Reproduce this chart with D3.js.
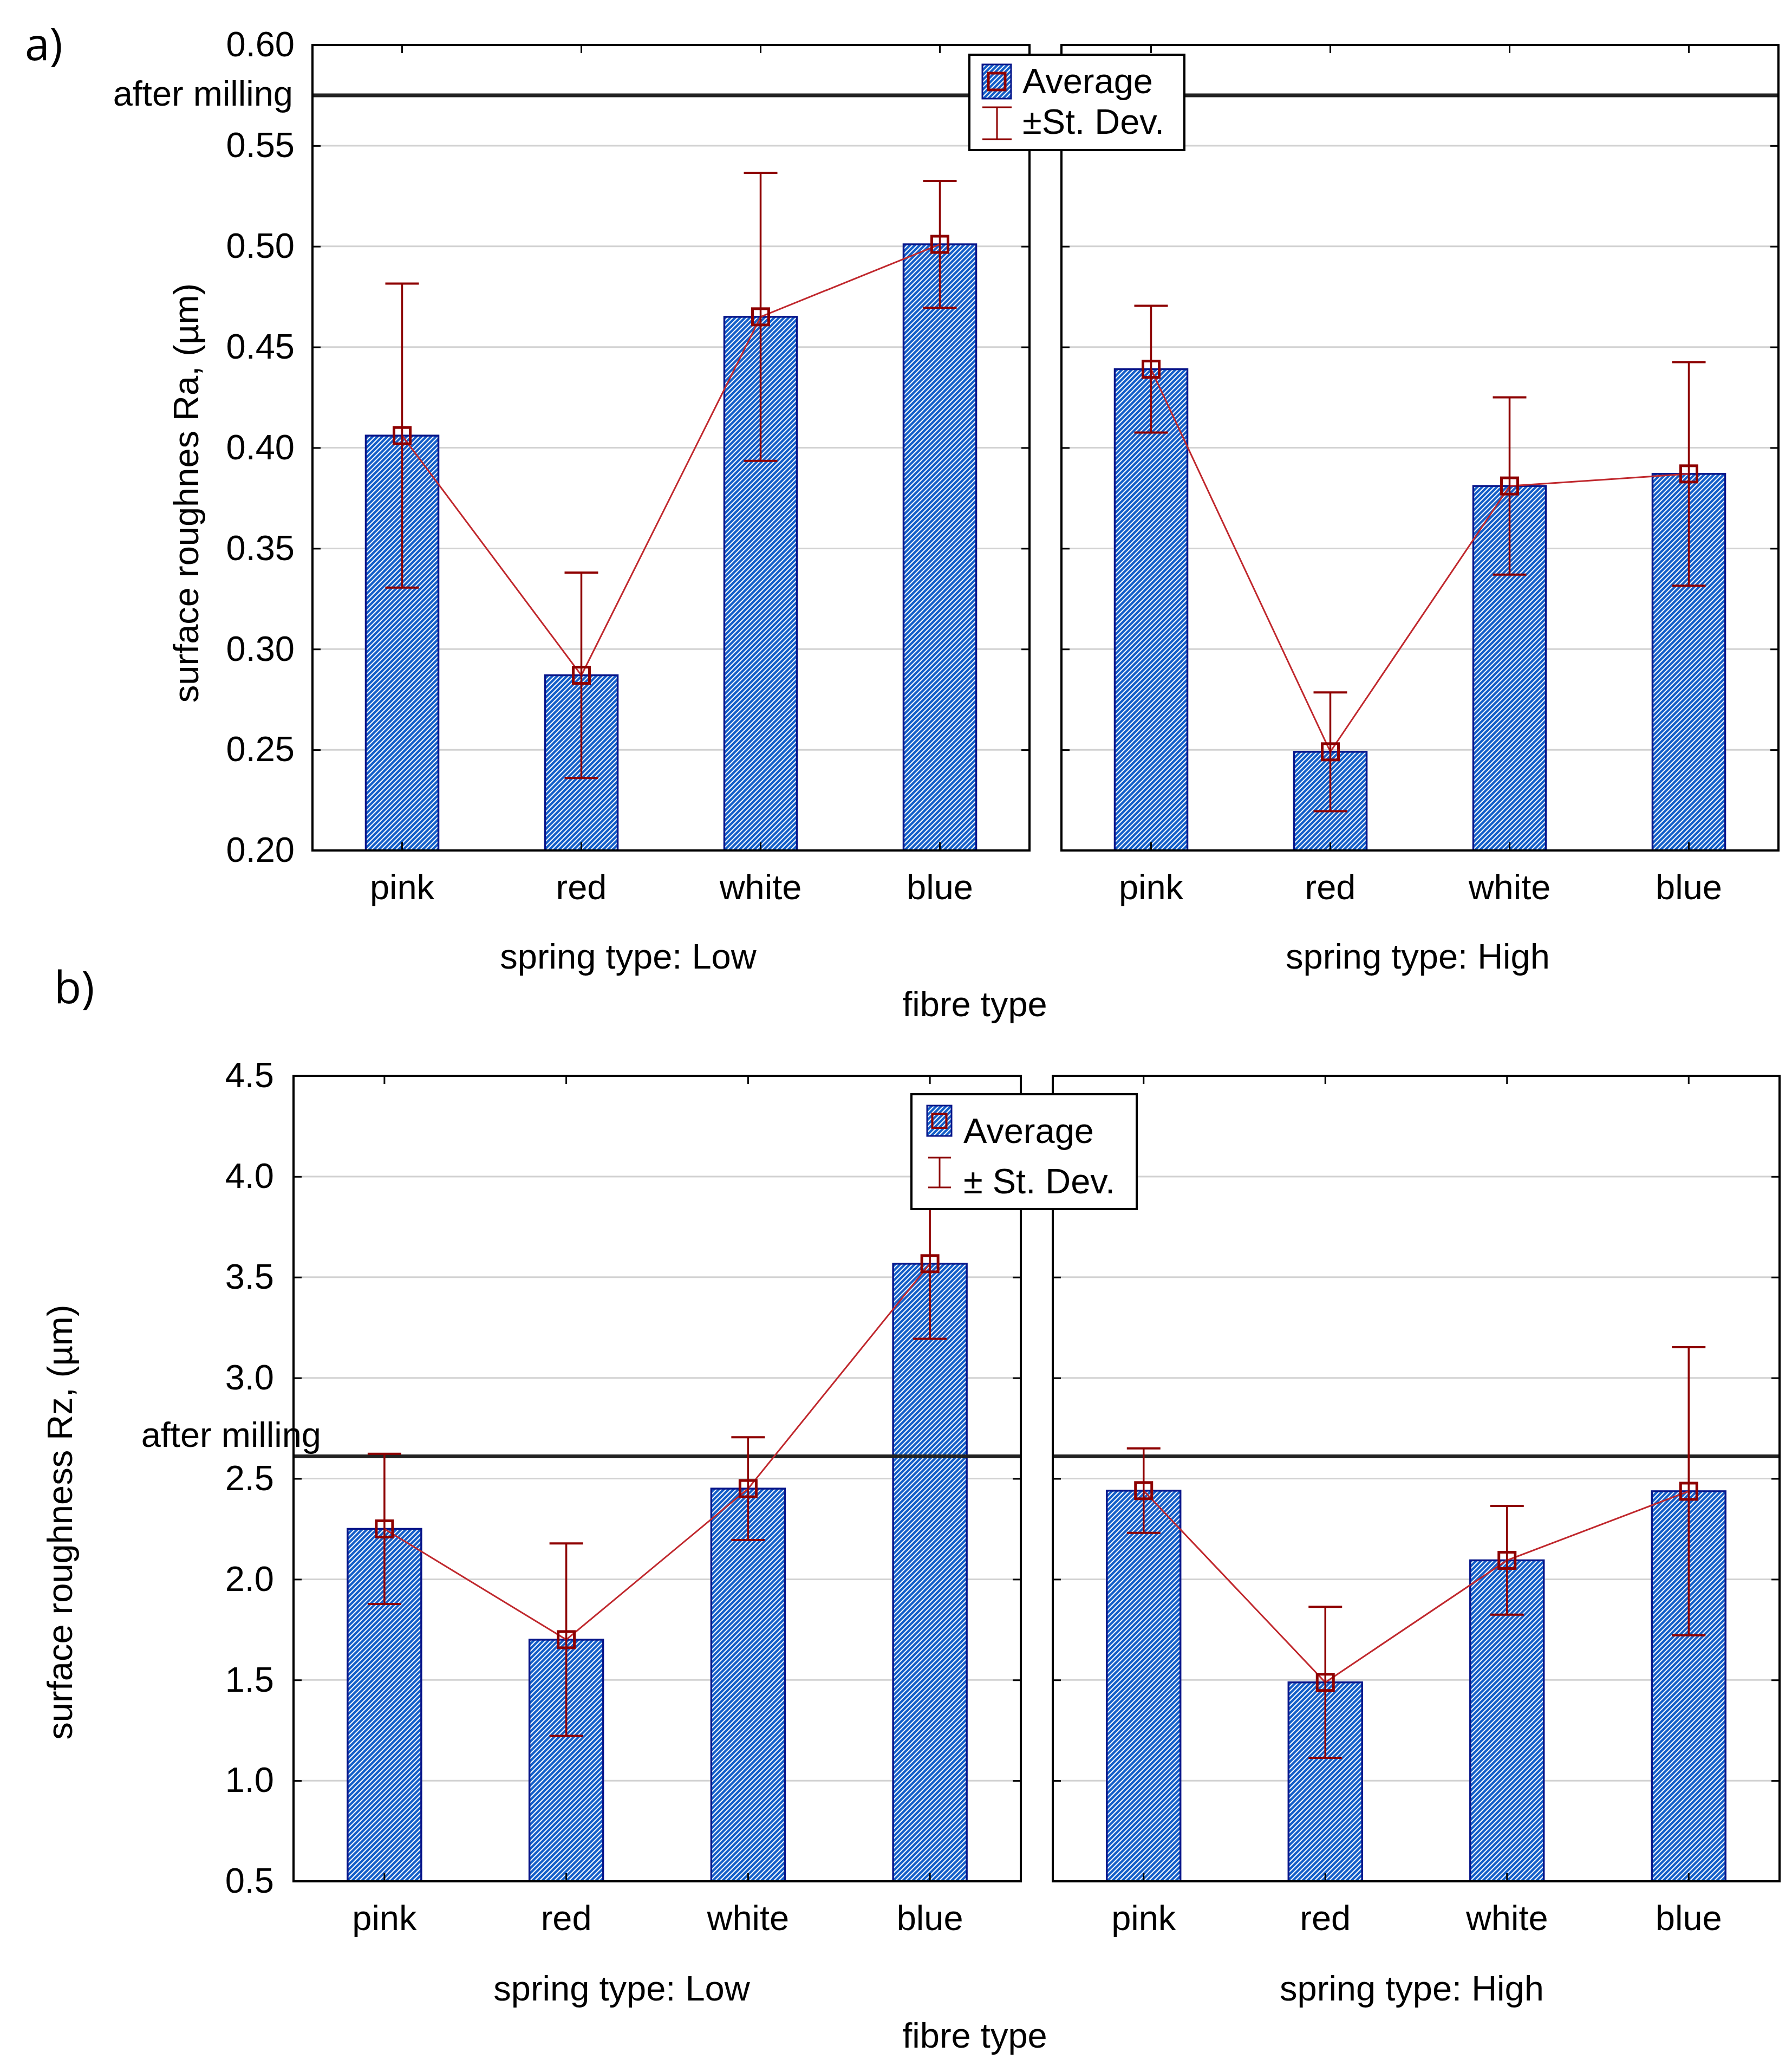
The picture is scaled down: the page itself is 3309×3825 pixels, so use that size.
<!DOCTYPE html>
<html>
<head>
<meta charset="utf-8">
<script src="https://cdn.jsdelivr.net/npm/d3@7"></script>
<style>
  html, body { margin: 0; padding: 0; background: #ffffff; }
  svg { display: block; }
</style>
</head>
<body>
<script>
// ---------------- DATA ----------------
const categories = ["pink", "red", "white", "blue"];
const springTypes = ["Low", "High"];

// a) surface roughness Ra (µm)
const raMeanLow  = [0.406, 0.287, 0.465, 0.501];
const raSdLow    = [0.0755, 0.051, 0.0715, 0.0315];
const raMeanHigh = [0.439, 0.249, 0.381, 0.387];
const raSdHigh   = [0.0315, 0.0295, 0.044, 0.0555];
const raAfterMilling = 0.575;
const raTicks = [0.20, 0.25, 0.30, 0.35, 0.40, 0.45, 0.50, 0.55, 0.60];

// b) surface roughness Rz (µm)
const rzMeanLow  = [2.25, 1.70, 2.45, 3.567];
const rzSdLow    = [0.373, 0.478, 0.255, 0.373];
const rzMeanHigh = [2.44, 1.488, 2.094, 2.437];
const rzSdHigh   = [0.21, 0.375, 0.27, 0.715];
const rzAfterMilling = 2.61;
const rzTicks = [0.5, 1.0, 1.5, 2.0, 2.5, 3.0, 3.5, 4.0, 4.5];

const legendLabelsA = ["Average", "\u00B1St. Dev."];
const legendLabelsB = ["Average", "\u00B1 St. Dev."];

// ---------------- STYLE ----------------
const W = 3309, H = 3825;
const FONT = "'Liberation Sans', Arial, Helvetica, sans-serif";
const FS = 65;
const BAR_BLUE = "#135ec8";
const BAR_EDGE = "#08168a";
const ERR_RED = "#8e0000";
const LINE_RED = "#c0282d";
const GRID = "#d2d2d2";

const svg = d3.select("body").append("svg")
  .attr("width", W).attr("height", H)
  .attr("viewBox", `0 0 ${W} ${H}`);
svg.append("rect").attr("width", W).attr("height", H).attr("fill", "#fff");

const defs = svg.append("defs");
const pat = defs.append("pattern").attr("id", "hatch")
  .attr("patternUnits", "userSpaceOnUse").attr("width", 9).attr("height", 9);
pat.append("rect").attr("width", 9).attr("height", 9).attr("fill", "#fff");
pat.append("path").attr("d", "M-2,2 L2,-2 M0,9 L9,0 M7,11 L11,7")
  .attr("stroke", BAR_BLUE).attr("stroke-width", 4.4);

function drawPanel(cfg) {
  const g = svg.append("g");
  const y = d3.scaleLinear().domain(cfg.domain).range([cfg.bottom, cfg.top]);
  const fmt = d3.format(cfg.fmt);

  cfg.groups.forEach((grp, gi) => {
    const [x0, x1] = cfg.xr[gi];
    const x = d3.scaleBand().domain(categories).range([x0, x1])
      .paddingInner(0.595).paddingOuter(0.2975);
    const cx = c => x(c) + x.bandwidth() / 2;
    const pg = g.append("g");

    // grid
    pg.selectAll("line.grid").data(cfg.ticks.slice(1, -1)).join("line")
      .attr("x1", x0).attr("x2", x1)
      .attr("y1", d => y(d)).attr("y2", d => y(d))
      .attr("stroke", GRID).attr("stroke-width", 3);

    const rows = categories.map((c, i) => ({ c, m: grp.mean[i], s: grp.sd[i] }));

    // bars
    pg.selectAll("rect.bar").data(rows).join("rect")
      .attr("x", d => x(d.c)).attr("width", x.bandwidth())
      .attr("y", d => y(d.m)).attr("height", d => y(cfg.domain[0]) - y(d.m))
      .attr("fill", "url(#hatch)").attr("stroke", BAR_EDGE).attr("stroke-width", 3.5);

    // after milling reference line
    pg.append("line")
      .attr("x1", x0).attr("x2", x1)
      .attr("y1", y(cfg.after)).attr("y2", y(cfg.after))
      .attr("stroke", "#222").attr("stroke-width", 7);

    // connecting line
    pg.append("path").datum(rows)
      .attr("d", d3.line().x(d => cx(d.c)).y(d => y(d.m)))
      .attr("fill", "none").attr("stroke", LINE_RED).attr("stroke-width", 3);

    // error bars
    const eb = pg.selectAll("g.eb").data(rows).join("g");
    eb.append("line").attr("x1", d => cx(d.c)).attr("x2", d => cx(d.c))
      .attr("y1", d => y(d.m - d.s)).attr("y2", d => y(d.m + d.s))
      .attr("stroke", ERR_RED).attr("stroke-width", 3.5);
    eb.append("line").attr("x1", d => cx(d.c) - 31).attr("x2", d => cx(d.c) + 31)
      .attr("y1", d => y(d.m + d.s)).attr("y2", d => y(d.m + d.s))
      .attr("stroke", ERR_RED).attr("stroke-width", 4);
    eb.append("line").attr("x1", d => cx(d.c) - 31).attr("x2", d => cx(d.c) + 31)
      .attr("y1", d => y(d.m - d.s)).attr("y2", d => y(d.m - d.s))
      .attr("stroke", ERR_RED).attr("stroke-width", 4);
    eb.append("rect").attr("x", d => cx(d.c) - 15).attr("y", d => y(d.m) - 15)
      .attr("width", 30).attr("height", 30)
      .attr("fill", "none").attr("stroke", ERR_RED).attr("stroke-width", 5);

    // axes (inward ticks)
    const yl = d3.axisLeft(y).tickValues(cfg.ticks).tickSize(-15).tickSizeOuter(0)
      .tickPadding(cfg.labelGap).tickFormat(gi === 0 ? fmt : () => "");
    const ylg = pg.append("g").attr("transform", `translate(${x0},0)`).call(yl);
    const yr = d3.axisRight(y).tickValues(cfg.ticks).tickSize(-15).tickSizeOuter(0).tickFormat(() => "");
    const yrg = pg.append("g").attr("transform", `translate(${x1},0)`).call(yr);
    const xb = d3.axisBottom(x).tickSize(-15).tickSizeOuter(0).tickPadding(44);
    const xbg = pg.append("g").attr("transform", `translate(0,${cfg.bottom})`).call(xb);
    const xt = d3.axisTop(x).tickSize(-15).tickSizeOuter(0).tickFormat(() => "");
    const xtg = pg.append("g").attr("transform", `translate(0,${cfg.top})`).call(xt);
    [ylg, yrg, xbg, xtg].forEach(a => {
      a.select(".domain").remove();
      a.selectAll(".tick line").attr("stroke", "#000").attr("stroke-width", 3);
      a.selectAll("text").attr("font-family", FONT).attr("font-size", FS).attr("fill", "#000");
    });

    // frame
    pg.append("rect").attr("x", x0).attr("y", cfg.top)
      .attr("width", x1 - x0).attr("height", cfg.bottom - cfg.top)
      .attr("fill", "none").attr("stroke", "#000").attr("stroke-width", 4);

    // group label
    g.append("text").attr("x", cfg.springX[gi]).attr("y", cfg.springY)
      .attr("text-anchor", "middle").attr("font-family", FONT).attr("font-size", FS)
      .text("spring type: " + springTypes[gi]);
  });

  // after milling label
  g.append("text").attr("x", cfg.afterLabel[0]).attr("y", cfg.afterLabel[1])
    .attr("text-anchor", "end").attr("font-family", FONT).attr("font-size", FS)
    .text("after milling");

  // y title
  g.append("text").attr("transform", `translate(${cfg.yTitle[0]},${cfg.yTitle[1]}) rotate(-90)`)
    .attr("text-anchor", "middle").attr("font-family", FONT).attr("font-size", FS)
    .text(cfg.yTitleText);

  // x title
  g.append("text").attr("x", cfg.xTitle[0]).attr("y", cfg.xTitle[1])
    .attr("text-anchor", "middle").attr("font-family", FONT).attr("font-size", FS)
    .text("fibre type");

  // panel tag
  g.append("text").attr("x", cfg.tag[0]).attr("y", cfg.tag[1])
    .attr("font-family", "'Open Sans', 'DejaVu Sans', sans-serif").attr("font-size", 82)
    .text(cfg.tagText);

  // legend
  const L = cfg.legend;
  const lg = g.append("g");
  lg.append("rect").attr("x", L.x).attr("y", L.y).attr("width", L.w).attr("height", L.h)
    .attr("fill", "#fff").attr("stroke", "#000").attr("stroke-width", 4);
  lg.append("rect").attr("x", L.icon.x).attr("y", L.icon.y).attr("width", L.icon.w).attr("height", L.icon.h)
    .attr("fill", "url(#hatch)").attr("stroke", BAR_EDGE).attr("stroke-width", 3);
  const mcx = L.icon.x + L.icon.w / 2, mcy = L.icon.y + L.icon.h / 2;
  lg.append("rect").attr("x", mcx - L.ms / 2).attr("y", mcy - L.ms / 2)
    .attr("width", L.ms).attr("height", L.ms)
    .attr("fill", "none").attr("stroke", ERR_RED).attr("stroke-width", L.msw);
  const ex = L.err.x, ehw = L.err.hw;
  lg.append("line").attr("x1", ex).attr("x2", ex).attr("y1", L.err.y0).attr("y2", L.err.y1)
    .attr("stroke", ERR_RED).attr("stroke-width", 3);
  [L.err.y0, L.err.y1].forEach(yy => lg.append("line")
    .attr("x1", ex - ehw).attr("x2", ex + ehw).attr("y1", yy).attr("y2", yy)
    .attr("stroke", ERR_RED).attr("stroke-width", 3));
  lg.selectAll("text.lt").data(cfg.legendLabels).join("text")
    .attr("x", L.tx).attr("y", (d, i) => L.ty[i])
    .attr("font-family", FONT).attr("font-size", FS).text(d => d);
}

drawPanel({
  domain: [0.20, 0.60], ticks: raTicks, fmt: ".2f",
  top: 83, bottom: 1570, xr: [[577, 1901], [1960, 3284]], labelGap: 33,
  groups: [{ mean: raMeanLow, sd: raSdLow }, { mean: raMeanHigh, sd: raSdHigh }],
  after: raAfterMilling, afterLabel: [541, 195],
  springX: [1160, 2618], springY: 1788,
  xTitle: [1800, 1876],
  yTitle: [366, 910], yTitleText: "surface roughnes Ra, (\u00B5m)",
  tag: [46, 111], tagText: "a)",
  legend: { x: 1790, y: 101, w: 397, h: 176,
    icon: { x: 1814, y: 119, w: 53, h: 63 }, ms: 31, msw: 5,
    err: { x: 1841, y0: 198, y1: 257, hw: 27 },
    tx: 1888, ty: [172, 247] },
  legendLabels: legendLabelsA
});

drawPanel({
  domain: [0.5, 4.5], ticks: rzTicks, fmt: ".1f",
  top: 1986, bottom: 3473, xr: [[542, 1885], [1944, 3286]], labelGap: 36,
  groups: [{ mean: rzMeanLow, sd: rzSdLow }, { mean: rzMeanHigh, sd: rzSdHigh }],
  after: rzAfterMilling, afterLabel: [593, 2671],
  springX: [1148, 2607], springY: 3693,
  xTitle: [1800, 3780],
  yTitle: [133, 2810], yTitleText: "surface roughness Rz, (\u00B5m)",
  tag: [100, 1852], tagText: "b)",
  legend: { x: 1683, y: 2020, w: 416, h: 212,
    icon: { x: 1712, y: 2041, w: 45, h: 56 }, ms: 26, msw: 4,
    err: { x: 1735, y0: 2137, y1: 2192, hw: 21 },
    tx: 1779, ty: [2110, 2203] },
  legendLabels: legendLabelsB
});
</script>
</body>
</html>
